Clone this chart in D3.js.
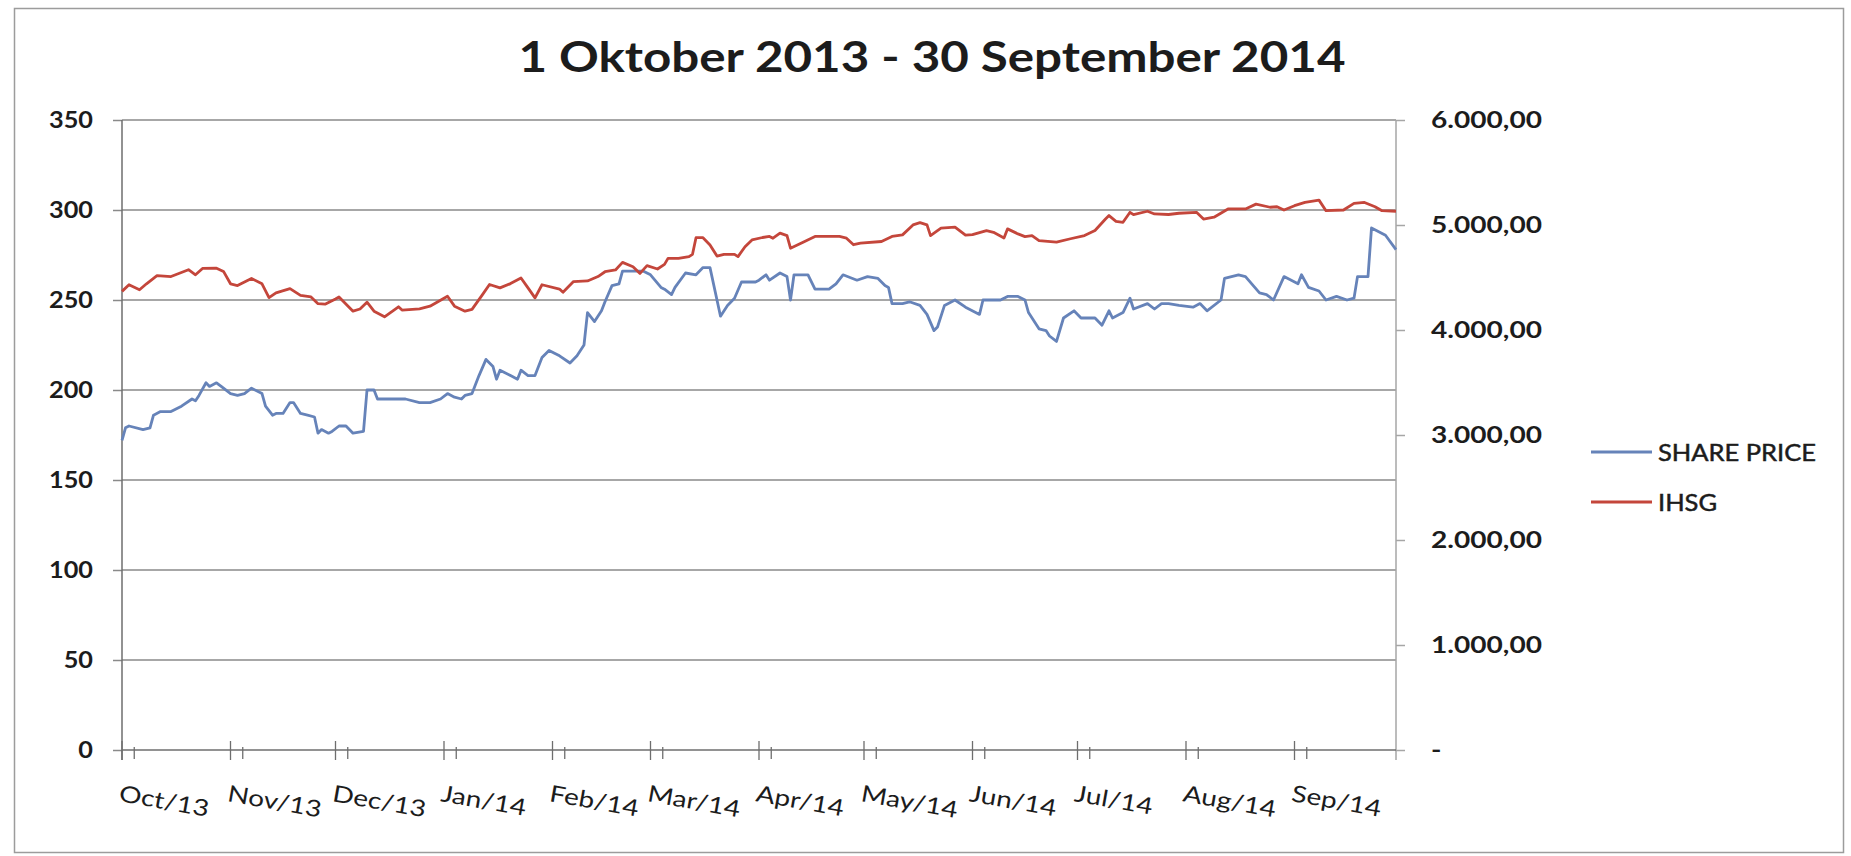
<!DOCTYPE html>
<html>
<head>
<meta charset="utf-8">
<title>1 Oktober 2013 - 30 September 2014</title>
<script src="https://cdn.jsdelivr.net/npm/d3@7"></script>
<style>
  html, body { margin: 0; padding: 0; background: #fff; }
  #chart { width: 1851px; height: 856px; }
</style>
</head>
<body>
<div id="chart"></div>
<script>
// ---- data ----
const TITLE = '1 Oktober 2013 - 30 September 2014';
const seriesNames = ['SHARE PRICE', 'IHSG'];

const priceDates = [
  '2013-10-01','2013-10-02','2013-10-03','2013-10-07','2013-10-09','2013-10-10','2013-10-12','2013-10-15','2013-10-18','2013-10-21',
  '2013-10-22','2013-10-23','2013-10-25','2013-10-26','2013-10-28','2013-10-30','2013-11-01','2013-11-03','2013-11-05','2013-11-07',
  '2013-11-10','2013-11-11','2013-11-13','2013-11-14','2013-11-16','2013-11-18','2013-11-19','2013-11-21','2013-11-23','2013-11-25',
  '2013-11-26','2013-11-27','2013-11-29','2013-11-30','2013-12-02','2013-12-04','2013-12-06','2013-12-09','2013-12-10','2013-12-12',
  '2013-12-13','2013-12-21','2013-12-25','2013-12-28','2013-12-31','2014-01-02','2014-01-04','2014-01-06','2014-01-07','2014-01-09',
  '2014-01-11','2014-01-13','2014-01-15','2014-01-16','2014-01-17','2014-01-20','2014-01-22','2014-01-23','2014-01-25','2014-01-27',
  '2014-01-29','2014-01-31','2014-02-03','2014-02-06','2014-02-08','2014-02-10','2014-02-11','2014-02-13','2014-02-15','2014-02-16',
  '2014-02-18','2014-02-20','2014-02-21','2014-02-25','2014-02-27','2014-03-01','2014-03-04','2014-03-05','2014-03-07','2014-03-08',
  '2014-03-11','2014-03-14','2014-03-16','2014-03-18','2014-03-21','2014-03-23','2014-03-25','2014-03-27','2014-03-31','2014-04-01',
  '2014-04-03','2014-04-04','2014-04-07','2014-04-09','2014-04-10','2014-04-11','2014-04-15','2014-04-17','2014-04-21','2014-04-23',
  '2014-04-25','2014-04-29','2014-05-02','2014-05-05','2014-05-07','2014-05-08','2014-05-09','2014-05-12','2014-05-14','2014-05-17',
  '2014-05-19','2014-05-21','2014-05-22','2014-05-24','2014-05-27','2014-05-30','2014-06-03','2014-06-04','2014-06-07','2014-06-09',
  '2014-06-11','2014-06-14','2014-06-16','2014-06-17','2014-06-20','2014-06-22','2014-06-23','2014-06-25','2014-06-27','2014-06-30',
  '2014-07-02','2014-07-06','2014-07-08','2014-07-10','2014-07-11','2014-07-14','2014-07-16','2014-07-17','2014-07-21','2014-07-23',
  '2014-07-25','2014-07-27','2014-07-30','2014-08-03','2014-08-05','2014-08-07','2014-08-11','2014-08-12','2014-08-16','2014-08-18',
  '2014-08-22','2014-08-24','2014-08-26','2014-08-29','2014-09-02','2014-09-03','2014-09-05','2014-09-08','2014-09-10','2014-09-13',
  '2014-09-16','2014-09-18','2014-09-19','2014-09-22','2014-09-23','2014-09-27','2014-09-30'
];
const priceValues = [
  172,179,180,178,179,186,188,188,191,195,
  194,197,204,202,204,201,198,197,198,201,
  198,191,186,187,187,193,193,187,186,185,
  176,178,176,177,180,180,176,177,200,200,
  195,195,193,193,195,198,196,195,197,198,
  208,217,213,206,211,208,206,211,208,208,
  218,222,219,215,219,225,243,238,244,249,
  258,259,266,266,266,264,257,256,253,257,
  265,264,268,268,241,247,251,260,260,261,
  264,261,265,263,250,264,264,256,256,259,
  264,261,263,262,258,257,248,248,249,247,
  242,233,235,247,250,246,242,250,250,250,
  252,252,250,243,234,233,230,227,240,244,
  240,240,236,244,240,243,251,245,248,245,
  248,248,247,246,248,244,250,262,264,263,
  254,253,250,263,259,264,257,255,250,252,
  250,251,263,263,290,286,278
];

const ihsgDates = [
  '2013-10-01','2013-10-03','2013-10-06','2013-10-08','2013-10-11','2013-10-15','2013-10-20','2013-10-22','2013-10-24','2013-10-28',
  '2013-10-30','2013-11-01','2013-11-03','2013-11-07','2013-11-10','2013-11-12','2013-11-14','2013-11-18','2013-11-21','2013-11-24',
  '2013-11-26','2013-11-28','2013-12-01','2013-12-02','2013-12-06','2013-12-08','2013-12-10','2013-12-12','2013-12-15','2013-12-19',
  '2013-12-20','2013-12-25','2013-12-28','2013-12-31','2014-01-02','2014-01-04','2014-01-07','2014-01-09','2014-01-12','2014-01-14',
  '2014-01-17','2014-01-20','2014-01-23','2014-01-25','2014-01-27','2014-01-29','2014-02-03','2014-02-04','2014-02-07','2014-02-11',
  '2014-02-14','2014-02-16','2014-02-19','2014-02-21','2014-02-24','2014-02-26','2014-02-28','2014-03-03','2014-03-05','2014-03-06',
  '2014-03-09','2014-03-12','2014-03-13','2014-03-14','2014-03-16','2014-03-18','2014-03-20','2014-03-22','2014-03-25','2014-03-26',
  '2014-03-28','2014-03-30','2014-04-02','2014-04-04','2014-04-05','2014-04-07','2014-04-09','2014-04-10','2014-04-13','2014-04-17',
  '2014-04-24','2014-04-26','2014-04-28','2014-04-30','2014-05-06','2014-05-09','2014-05-12','2014-05-15','2014-05-17','2014-05-19',
  '2014-05-20','2014-05-23','2014-05-27','2014-05-30','2014-06-01','2014-06-05','2014-06-07','2014-06-10','2014-06-11','2014-06-14',
  '2014-06-16','2014-06-18','2014-06-20','2014-06-25','2014-06-29','2014-07-03','2014-07-06','2014-07-09','2014-07-10','2014-07-12',
  '2014-07-14','2014-07-16','2014-07-17','2014-07-21','2014-07-23','2014-07-27','2014-07-30','2014-08-04','2014-08-06','2014-08-09',
  '2014-08-13','2014-08-18','2014-08-21','2014-08-25','2014-08-27','2014-08-29','2014-09-01','2014-09-04','2014-09-08','2014-09-10',
  '2014-09-15','2014-09-18','2014-09-21','2014-09-24','2014-09-26','2014-09-30'
];
const ihsgValues = [
  4368,4431,4383,4440,4517,4509,4574,4526,4586,4589,
  4558,4440,4423,4491,4440,4308,4354,4394,4330,4315,
  4251,4246,4296,4315,4179,4200,4265,4179,4126,4221,
  4190,4202,4227,4284,4322,4227,4179,4197,4337,4433,
  4401,4442,4495,4401,4306,4431,4390,4359,4461,4467,
  4509,4555,4572,4644,4603,4539,4613,4581,4625,4682,
  4682,4699,4721,4879,4879,4810,4704,4721,4721,4699,
  4793,4858,4881,4891,4874,4922,4899,4779,4827,4891,
  4891,4874,4812,4827,4843,4891,4906,5001,5023,5001,
  4899,4970,4980,4903,4908,4947,4930,4877,4963,4915,
  4889,4899,4851,4836,4869,4899,4947,5057,5090,5035,
  5026,5121,5098,5131,5105,5100,5112,5121,5057,5074,
  5153,5153,5199,5169,5174,5143,5184,5215,5237,5136,
  5143,5206,5215,5174,5136,5131
];

const monthTicks = [
  '2013-10-01','2013-11-01','2013-12-01','2014-01-01','2014-02-01','2014-03-01',
  '2014-04-01','2014-05-01','2014-06-01','2014-07-01','2014-08-01','2014-09-01'
];
const monthLabels = ['Oct/13','Nov/13','Dec/13','Jan/14','Feb/14','Mar/14','Apr/14','May/14','Jun/14','Jul/14','Aug/14','Sep/14'];
const priceTicks = [0, 50, 100, 150, 200, 250, 300, 350];
const ihsgTicks = [0, 1000, 2000, 3000, 4000, 5000, 6000];

// ---- layout / style ----
const WIDTH = 1851, HEIGHT = 856;
const MARGIN = { top: 120, right: 455, bottom: 106, left: 122 };
const FONT = 'Lato, "Open Sans", sans-serif';
const TEXT = '#1c1c1c';
const GRID = '#8a8a8a';
const COLORS = ['#6683b9', '#c4463b'];

const parseDate = d3.timeParse('%Y-%m-%d');
const idLocale = d3.formatLocale({ decimal: ',', thousands: '.', grouping: [3], currency: ['Rp', ''] });
const fmtIndex = idLocale.format(',.2f');

// width of a string in the given font, used to widen labels like the scan
function measure(svg, str, size, weight) {
  const t = svg.append('text')
    .attr('font-family', FONT).attr('font-size', size).attr('font-weight', weight)
    .text(str);
  const w = t.node().getComputedTextLength();
  t.remove();
  return w;
}

function stretch(sel, k) {
  sel.each(function () {
    const w = this.getComputedTextLength();
    d3.select(this).attr('textLength', w * k).attr('lengthAdjust', 'spacingAndGlyphs');
  });
}

function renderChart(container) {
  const innerW = WIDTH - MARGIN.left - MARGIN.right;
  const innerH = HEIGHT - MARGIN.top - MARGIN.bottom;

  const svg = d3.select(container)
    .append('svg')
    .attr('width', WIDTH)
    .attr('height', HEIGHT)
    .attr('font-family', FONT);

  // chart frame
  svg.append('rect')
    .attr('x', 14.5).attr('y', 8.5)
    .attr('width', 1829).attr('height', 844)
    .attr('fill', '#fff')
    .attr('stroke', '#9c9c9c').attr('stroke-width', 1.5);

  // title
  svg.append('text')
    .attr('x', 932).attr('y', 72)
    .attr('text-anchor', 'middle')
    .attr('font-size', 42).attr('font-weight', 700)
    .attr('fill', TEXT)
    .attr('textLength', 827).attr('lengthAdjust', 'spacingAndGlyphs')
    .text(TITLE);

  const g = svg.append('g')
    .attr('transform', `translate(${MARGIN.left},${MARGIN.top})`);

  const priceData = priceDates.map((d, i) => ({ date: parseDate(d), value: priceValues[i] }));
  const ihsgData = ihsgDates.map((d, i) => ({ date: parseDate(d), value: ihsgValues[i] }));
  const months = monthTicks.map(parseDate);

  const x = d3.scaleTime().domain(d3.extent(priceData, d => d.date)).range([0, innerW]);
  const yL = d3.scaleLinear().domain([0, 350]).range([innerH, 0]);
  const yR = d3.scaleLinear().domain([0, 6000]).range([innerH, 0]);

  // Gridlines
  g.append('g')
    .selectAll('line')
    .data(priceTicks.filter(v => v > 0))
    .join('line')
    .attr('x1', 0).attr('x2', innerW)
    .attr('y1', d => yL(d)).attr('y2', d => yL(d))
    .attr('stroke', GRID).attr('stroke-width', 1.5);

  // Left axis
  const kLeft = 44 / measure(svg, '350', 22, 700);
  const left = g.append('g')
    .call(d3.axisLeft(yL).tickValues(priceTicks).tickSize(9).tickPadding(20))
    .attr('font-family', FONT).attr('font-size', 22).attr('font-weight', 700);
  left.select('.domain').remove();
  left.selectAll('line').attr('stroke', GRID).attr('stroke-width', 1.5);
  left.selectAll('text').attr('fill', TEXT).call(stretch, kLeft);

  // Right axis
  const kRight = 111 / measure(svg, '6.000,00', 22, 700);
  const right = g.append('g')
    .attr('transform', `translate(${innerW},0)`)
    .call(d3.axisRight(yR).tickValues(ihsgTicks).tickSize(9).tickPadding(26)
      .tickFormat(v => v === 0 ? '-' : fmtIndex(v)))
    .attr('font-family', FONT).attr('font-size', 22).attr('font-weight', 700);
  right.select('.domain').remove();
  right.selectAll('line').attr('stroke', '#a6a6a6').attr('stroke-width', 1.5);
  right.selectAll('text').attr('fill', TEXT).call(stretch, kRight);

  // Axis lines
  g.append('line')
    .attr('x1', 0).attr('x2', 0).attr('y1', 0).attr('y2', innerH + 10)
    .attr('stroke', '#6e6e6e').attr('stroke-width', 1.5);
  g.append('line')
    .attr('x1', innerW).attr('x2', innerW).attr('y1', 0).attr('y2', innerH + 10)
    .attr('stroke', '#a6a6a6').attr('stroke-width', 1.5);
  g.append('line')
    .attr('x1', 0).attr('x2', innerW).attr('y1', innerH).attr('y2', innerH)
    .attr('stroke', '#6e6e6e').attr('stroke-width', 1.5);

  // Month ticks (a crossing tick plus a short companion tick)
  const xAxis = g.append('g').attr('stroke', '#6e6e6e').attr('stroke-width', 1.3);
  xAxis.selectAll('line.major')
    .data(months)
    .join('line')
    .attr('class', 'major')
    .attr('x1', d => x(d)).attr('x2', d => x(d))
    .attr('y1', innerH - 9).attr('y2', innerH + 10);
  xAxis.selectAll('line.minor')
    .data(months)
    .join('line')
    .attr('class', 'minor')
    .attr('x1', d => x(d3.timeHour.offset(d, 84))).attr('x2', d => x(d3.timeHour.offset(d, 84)))
    .attr('y1', innerH - 3).attr('y2', innerH + 9);

  const kMonth = 95 / measure(svg, 'Nov/13', 23, 400);
  g.append('g')
    .selectAll('text')
    .data(months)
    .join('text')
    .attr('transform', d => `translate(${x(d) - 4},${innerH + 51}) rotate(10)`)
    .attr('font-size', 23)
    .attr('fill', TEXT)
    .text((d, i) => monthLabels[i])
    .call(stretch, kMonth);

  // Lines
  const priceLine = d3.line().x(d => x(d.date)).y(d => yL(d.value));
  const ihsgLine = d3.line().x(d => x(d.date)).y(d => yR(d.value));

  g.append('path')
    .datum(priceData)
    .attr('fill', 'none')
    .attr('stroke', COLORS[0])
    .attr('stroke-width', 2.8)
    .attr('stroke-linejoin', 'round')
    .attr('d', priceLine);

  g.append('path')
    .datum(ihsgData)
    .attr('fill', 'none')
    .attr('stroke', COLORS[1])
    .attr('stroke-width', 2.8)
    .attr('stroke-linejoin', 'round')
    .attr('d', ihsgLine);

  // Legend
  const kLegend = 158 / measure(svg, 'SHARE PRICE', 24, 400);
  const legend = svg.append('g').attr('transform', 'translate(1591,452)');
  const item = legend.selectAll('g')
    .data(seriesNames)
    .join('g')
    .attr('transform', (d, i) => `translate(0,${i * 50})`);
  item.append('line')
    .attr('x1', 0).attr('x2', 61)
    .attr('stroke', (d, i) => COLORS[i])
    .attr('stroke-width', 2.8);
  item.append('text')
    .attr('x', 67).attr('dy', '0.36em')
    .attr('font-size', 24)
    .attr('fill', TEXT)
    .attr('stroke', TEXT).attr('stroke-width', 0.5)
    .text(d => d)
    .call(stretch, kLegend);

  return svg.node();
}

renderChart(document.getElementById('chart'));
</script>
</body>
</html>
